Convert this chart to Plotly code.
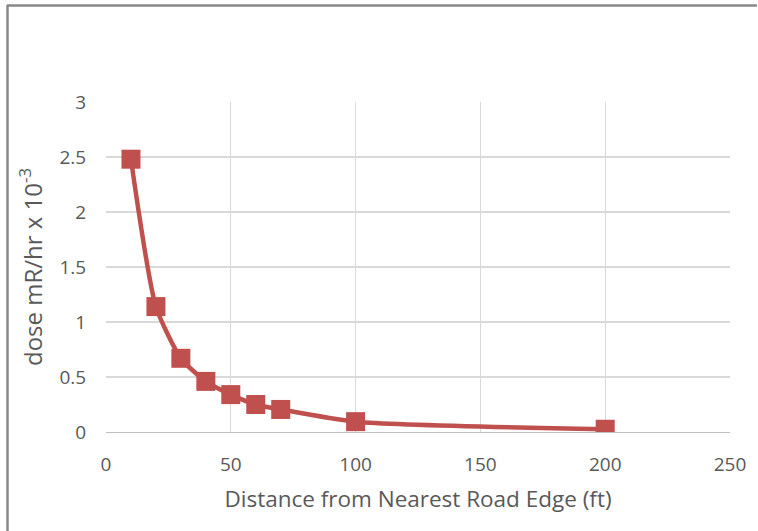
import plotly.graph_objects as go

distance_ft = [10, 20, 30, 40, 50, 60, 70, 100, 200]
dose = [2.48, 1.14, 0.67, 0.46, 0.34, 0.25, 0.205, 0.094, 0.025]
x_ticks = [0, 50, 100, 150, 200, 250]
y_ticks = [0, 0.5, 1, 1.5, 2, 2.5, 3]
y_tick_text = ["0", "0.5", "1", "1.5", "2", "2.5", "3"]

FONT = "Open Sans"
GREY = "#595959"
RED = "#C0504D"

fig = go.Figure()
fig.add_trace(go.Scatter(
    x=distance_ft, y=dose, mode="lines+markers",
    line=dict(color=RED, width=4.5, shape="spline", smoothing=0.6),
    marker=dict(symbol="square", size=19, color=RED),
    showlegend=False,
))

W, H = 758, 531
L, R, T, B = 106, 28, 102, 99
pw, ph = W - L - R, H - T - B

def px(xp):
    return (xp - L) / pw

def py(yp):
    return (H - B - yp) / ph

fig.update_layout(
    width=W, height=H,
    margin=dict(l=L, r=R, t=T, b=B),
    paper_bgcolor="white", plot_bgcolor="white",
    font=dict(family=FONT, color=GREY, size=19),
    xaxis=dict(
        range=[0, 250], tickvals=x_ticks, showgrid=True, gridcolor="#D9D9D9", gridwidth=1.3,
        zeroline=False, showline=True, linecolor="#BFBFBF", linewidth=1.3,
        ticks="outside", ticklen=15, tickcolor="rgba(0,0,0,0)",
        tickfont=dict(size=19, color=GREY),
        title=dict(text="Distance from Nearest Road Edge (ft)", font=dict(size=22.5, color=GREY), standoff=15),
    ),
    yaxis=dict(
        range=[0, 3], tickvals=y_ticks, ticktext=y_tick_text, showgrid=True, gridcolor="#D9D9D9", gridwidth=1.3,
        zeroline=False, showline=False,
        ticks="outside", ticklen=15, tickcolor="rgba(0,0,0,0)",
        tickfont=dict(size=19, color=GREY),
        title=dict(text="dose mR/hr x 10<sup>-3</sup>", font=dict(size=24, color=GREY), standoff=10),
    ),
)

# chart frame lines (top and left, as in the reference)
fig.add_shape(type="line", xref="paper", yref="paper",
              x0=px(7), x1=px(757), y0=py(5.5), y1=py(5.5),
              line=dict(color="#888888", width=2.5))
fig.add_shape(type="line", xref="paper", yref="paper",
              x0=px(7.5), x1=px(7.5), y0=py(5), y1=py(531),
              line=dict(color="#888888", width=2.5))

fig.write_html("out.html", config={"displayModeBar": False, "staticPlot": True},
               post_script="document.body.style.margin='0';document.body.style.overflow='hidden';")
